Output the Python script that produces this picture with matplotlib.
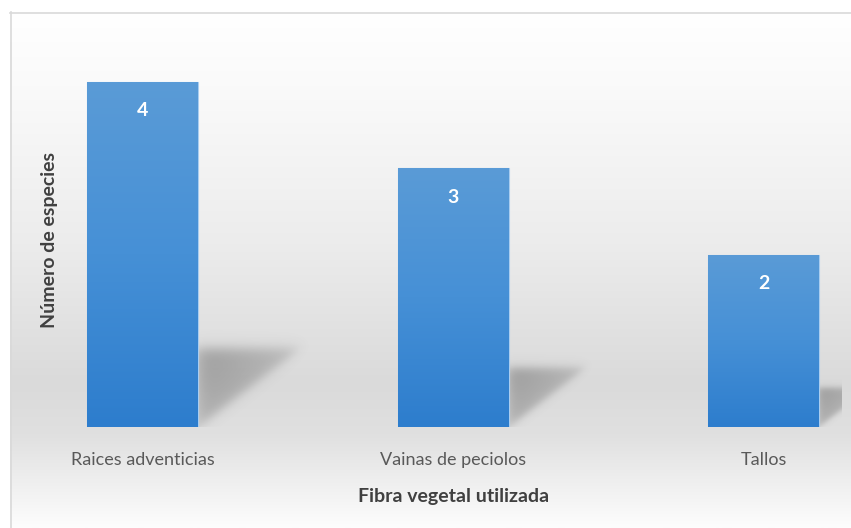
import numpy as np
import matplotlib
matplotlib.use("Agg")
import matplotlib.pyplot as plt
from matplotlib.colors import LinearSegmentedColormap

categories = ["Raices adventicias", "Vainas de peciolos", "Tallos"]
values = [4, 3, 2]
x_title = "Fibra vegetal utilizada"
y_title = "Número de especies"

plt.rcParams['font.family'] = ['Lato', 'DejaVu Sans']

W, H = 851, 528
fig = plt.figure(figsize=(W / 100, H / 100), dpi=100)

# background chart area (pixel coords)
bg = fig.add_axes([0, 0, 1, 1], zorder=0)
bg.set_xlim(0, W)
bg.set_ylim(H, 0)
bg.axis('off')
stops = [(0.0, '#ffffff'), (0.17, '#f9f9f9'), (0.45, '#ececec'), (0.72, '#dadada'),
         (0.82, '#e0e0e0'), (0.92, '#f0f0f0'), (1.0, '#fdfdfd')]
cmap_bg = LinearSegmentedColormap.from_list('bg', stops)
grad = np.linspace(0, 1, 256).reshape(-1, 1)
bg.imshow(grad, cmap=cmap_bg, extent=(10, W, 528, 12), aspect='auto', interpolation='bilinear')
bg.plot([10, W], [12.5, 12.5], color='#d9d9d9', lw=1.2)
bg.plot([10.5, 10.5], [12, H], color='#d9d9d9', lw=1.2)

# main axes: left=10px, right=842px, top=12px, bottom=427px (baseline)
left, right, top, base = 10, 842, 12, 427
ax = fig.add_axes([left / W, (H - base) / H, (right - left) / W, (base - top) / H], zorder=1)
ax.patch.set_alpha(0)
xunit = 310.5
yunit = 86.25
x0 = 142.5
for s in ax.spines.values():
    s.set_visible(False)
ax.set_yticks([])

xpos = np.arange(len(categories))
bw = 111 / xunit
bars = ax.bar(xpos, values, width=bw, color='#3f88d4', edgecolor='#a9cdf0', linewidth=0.8, zorder=3)

cmap_bar = LinearSegmentedColormap.from_list('bar', ['#2d7dcd', '#4690d6', '#5a9bd7'])
for b, v in zip(bars, values):
    bx = b.get_x()
    bwid, bh = b.get_width(), b.get_height()
    im = ax.imshow(np.linspace(0, 1, 256).reshape(-1, 1), cmap=cmap_bar, origin='lower',
                   extent=(bx, bx + bwid, 0, bh), aspect='auto', zorder=3.5,
                   interpolation='bilinear')
    im.set_clip_path(b)
    # soft perspective shadow
    xr = bx + bwid
    sh_h = 19.5 * v / yunit
    sh_w = 25.5 * v / xunit
    n = 200
    u = np.linspace(-0.05, 1.25, n)
    w = np.linspace(-0.05, 1.25, n)
    U, Wg = np.meshgrid(u, w)
    s = 0.05
    sig = lambda z: 1 / (1 + np.exp(-z / s))
    inside = sig(Wg - U) * sig(1.0 - Wg) * sig(1.0 - U) * sig(U + 0.02)
    alpha = inside * 0.48 * (1 - 0.45 * np.clip(U, 0, 1)) * (0.7 + 0.3 * np.clip(Wg, 0, 1))
    rgba = np.zeros((n, n, 4))
    rgba[..., :3] = 0.33
    rgba[..., 3] = np.clip(alpha, 0, 1)
    ax.imshow(rgba, origin='lower', aspect='auto', zorder=2, interpolation='bilinear',
              extent=(xr + u[0] * sh_w, xr + u[-1] * sh_w, w[0] * sh_h, w[-1] * sh_h))
    ax.annotate(str(v), xy=(bx + bwid / 2, bh), xytext=(0, -29),
                textcoords='offset pixels', ha='center', va='center',
                color='white', fontsize=14, fontweight='bold', zorder=5)

ax.set_xlim((left - x0) / xunit, (right - x0) / xunit)
ax.set_ylim(0, (base - top) / yunit)
ax.set_xticks(xpos)
ax.set_xticklabels(categories, fontsize=13, color='#595959')
ax.tick_params(axis='x', length=0, pad=18)
ax.set_xlabel(x_title, fontsize=14, fontweight='bold', color='#404040', labelpad=12)
ax.xaxis.set_label_coords((453.5 - left) / (right - left), -0.148)

fig.text(50 / W, 1 - 240 / H, y_title, rotation=90, ha='center', va='center',
         fontsize=14, fontweight='bold', color='#404040')

fig.savefig('out.png', dpi=100)
